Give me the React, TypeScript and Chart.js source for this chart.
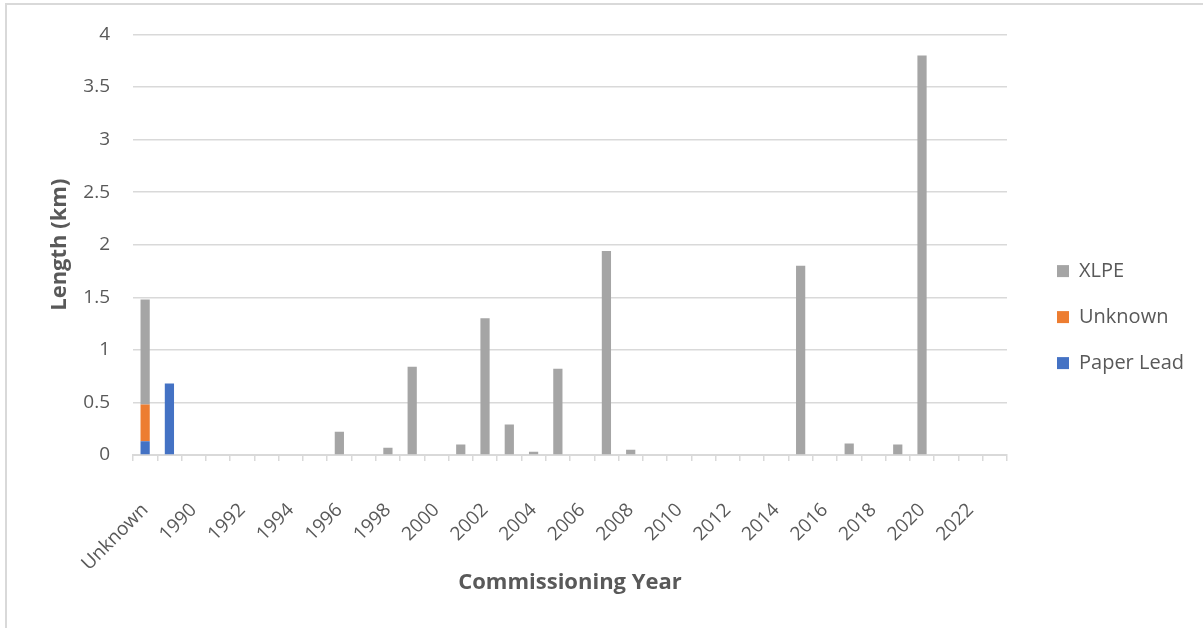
import React, { useEffect, useRef } from "react";
import { Chart, registerables } from "chart.js";

Chart.register(...registerables);

const categories = [
  "Unknown", "1989", "1990", "1991", "1992", "1993", "1994", "1995", "1996",
  "1997", "1998", "1999", "2000", "2001", "2002", "2003", "2004", "2005",
  "2006", "2007", "2008", "2009", "2010", "2011", "2012", "2013", "2014",
  "2015", "2016", "2017", "2018", "2019", "2020", "2021", "2022", "2023",
];

const paperLead = [
  0.13, 0.68, 0, 0, 0, 0, 0, 0, 0, 0, 0, 0, 0, 0, 0, 0, 0, 0,
  0, 0, 0, 0, 0, 0, 0, 0, 0, 0, 0, 0, 0, 0, 0, 0, 0, 0,
];

const unknownType = [
  0.35, 0, 0, 0, 0, 0, 0, 0, 0, 0, 0, 0, 0, 0, 0, 0, 0, 0,
  0, 0, 0, 0, 0, 0, 0, 0, 0, 0, 0, 0, 0, 0, 0, 0, 0, 0,
];

const xlpe = [
  1.0, 0, 0, 0, 0, 0, 0, 0, 0.22, 0, 0.07, 0.84, 0, 0.1, 1.3, 0.29, 0.03, 0.82,
  0, 1.94, 0.05, 0, 0, 0, 0, 0, 0, 1.8, 0, 0.11, 0, 0.1, 3.8, 0, 0, 0,
];

const yTicks = [0, 0.5, 1, 1.5, 2, 2.5, 3, 3.5, 4];

const FONT = "'Open Sans', 'DejaVu Sans', sans-serif";
const TEXT = "#595959";
const GRID = "#d9d9d9";

export default function App() {
  const ref = useRef<HTMLCanvasElement | null>(null);

  useEffect(() => {
    document.body.style.margin = "0";
    const canvas = ref.current;
    if (!canvas) return;
    const chart = new Chart(canvas, {
      type: "bar",
      data: {
        labels: categories,
        datasets: [
          { label: "Paper Lead", data: paperLead, backgroundColor: "#4472C4" },
          { label: "Unknown", data: unknownType, backgroundColor: "#ED7D31" },
          { label: "XLPE", data: xlpe, backgroundColor: "#A5A5A5" },
        ],
      },
      options: {
        responsive: false,
        animation: false,
        datasets: {
          bar: { categoryPercentage: 1, barPercentage: 0.38 },
        },
        layout: { padding: { left: 47, top: 24, right: 9, bottom: 32 } },
        plugins: {
          tooltip: { enabled: false },
          legend: {
            position: "right",
            reverse: true,
            title: {
              display: true,
              text: " ",
              font: { size: 1 },
              padding: { top: 13, bottom: 0 },
            },
            labels: {
              boxWidth: 12,
              boxHeight: 12,
              padding: 26,
              color: TEXT,
              font: { family: FONT, size: 20 },
            },
          },
        },
        scales: {
          x: {
            stacked: true,
            afterFit: (scale: any) => {
              scale.paddingLeft = 0;
              scale.paddingRight = 0;
              scale.height = 141;
            },
            grid: {
              drawOnChartArea: false,
              drawTicks: true,
              tickLength: 6,
              color: GRID,
              lineWidth: 1.5,
            },
            border: { display: true, color: GRID, width: 2 },
            ticks: {
              autoSkip: false,
              minRotation: 45,
              maxRotation: 45,
              padding: 38,
              color: TEXT,
              font: { family: FONT, size: 19 },
              callback: (_v: any, i: number) => (i % 2 === 0 ? categories[i] : ""),
            },
            title: {
              display: true,
              text: "Commissioning Year",
              color: TEXT,
              font: { family: FONT, size: 22, weight: "bold" },
              padding: { top: 5, bottom: 0 },
            },
          },
          y: {
            stacked: true,
            min: 0,
            max: 4,
            afterBuildTicks: (scale: any) => {
              scale.ticks = yTicks.map((v) => ({ value: v }));
            },
            afterFit: (scale: any) => {
              scale.width = 86;
            },
            grid: { color: GRID, lineWidth: 1.5, drawTicks: false },
            border: { display: false },
            ticks: {
              padding: 23,
              color: TEXT,
              font: { family: FONT, size: 19 },
              callback: (v: any) => String(v),
            },
            title: {
              display: true,
              text: "Length (km)",
              color: TEXT,
              font: { family: FONT, size: 22, weight: "bold" },
              padding: { top: 0, bottom: 10 },
            },
          },
          yR: {
            position: "right",
            display: true,
            grid: { display: false, drawTicks: false },
            border: { display: false },
            ticks: { display: false },
            afterFit: (scale: any) => {
              scale.width = 24;
            },
          },
        },
      },
    });
    return () => chart.destroy();
  }, []);

  return (
    <div style={{ position: "relative", width: 1203, height: 628, background: "#fff", overflow: "hidden" }}>
      <div style={{ position: "absolute", left: 5, top: 3, width: 2, height: 625, background: GRID }} />
      <div style={{ position: "absolute", left: 5, top: 3, width: 1198, height: 2, background: GRID }} />
      <canvas ref={ref} width={1203} height={628} style={{ position: "absolute", left: 0, top: 0 }} />
    </div>
  );
}
